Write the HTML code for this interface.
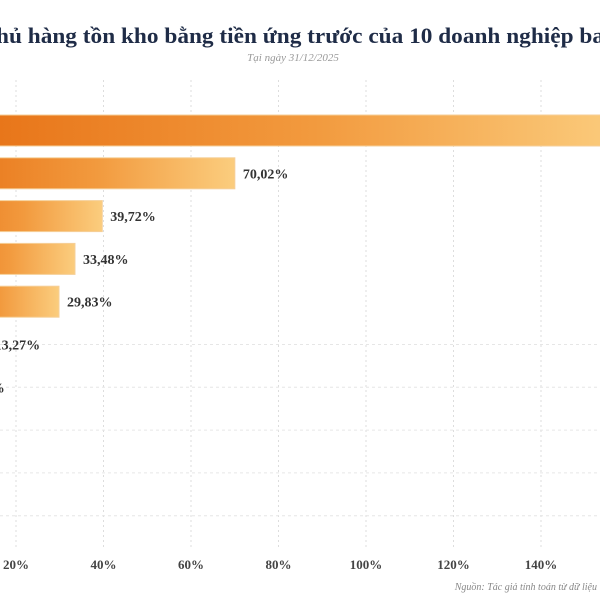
<!DOCTYPE html>
<html><head><meta charset="utf-8"><style>
body{margin:0;background:#fff;}
svg{display:block;}
</style></head><body>
<svg id="chart" width="600" height="600" viewBox="0 0 600 600" xmlns="http://www.w3.org/2000/svg">
<defs>
<linearGradient id="g" x1="0" x2="1" y1="0" y2="0">
<stop offset="0" stop-color="#e66e12"/><stop offset="0.55" stop-color="#f29a3e"/><stop offset="1" stop-color="#fbcd7e"/>
</linearGradient>
</defs>
<rect width="600" height="600" fill="#fff"/>
<text x="-4" y="43" font-family="'Liberation Serif',serif" font-weight="bold" font-size="22" fill="#1f2c47"><tspan textLength="608" lengthAdjust="spacingAndGlyphs">hủ hàng tồn kho bằng tiền ứng trước của 10 doanh nghiệp ba</tspan><tspan>t động sản</tspan></text>
<text x="293" y="61" text-anchor="middle" font-family="'Liberation Serif',serif" font-style="italic" font-size="11" fill="#999">Tại ngày 31/12/2025</text>
<g id="grid"></g>
<g id="bars"></g>
<g id="xaxis"></g>
<text x="597" y="590" text-anchor="end" font-family="'Liberation Serif',serif" font-style="italic" font-size="10" fill="#888">Nguồn: Tác giả tính toán từ dữ liệu</text>
</svg>
<script>
const categories = ["DN1","DN2","DN3","DN4","DN5","DN6","DN7","DN8","DN9","DN10"];
const values = [160, 70.02, 39.72, 33.48, 29.83, 13.27, 6.8, 3, 2, 1];
const labels = ["160,00%","70,02%","39,72%","33,48%","29,83%","13,27%","6,80%","3,00%","2,00%","1,00%"];
const ticks = [20, 40, 60, 80, 100, 120, 140];
const tickLabels = ["20%","40%","60%","80%","100%","120%","140%"];

const NS = "http://www.w3.org/2000/svg";
const xs = v => -71.5 + v * 4.375;
const ys = i => 130.5 + i * 42.8;
const barH = 31;
function mk(tag, attrs, parent){ const e=document.createElementNS(NS,tag); for(const k in attrs) e.setAttribute(k,attrs[k]); parent.appendChild(e); return e; }
const grid=document.getElementById('grid'), bars=document.getElementById('bars'), xa=document.getElementById('xaxis');
ticks.forEach((t,i)=>{
  const l=mk('line',{x1:xs(t),x2:xs(t),y1:80,y2:550,stroke:'#ddd','stroke-dasharray':'2,3','stroke-width':1},grid);
  
  
  const tx=mk('text',{x:xs(t),y:569,'text-anchor':'middle','font-family':"'Liberation Serif',serif",'font-weight':'bold','font-size':13,fill:'#444'},xa);
  tx.textContent=tickLabels[i];
  
  
});
categories.forEach((c,i)=>{
  const y=ys(i);
  if(i>=5){
    const h=mk('line',{x1:0,x2:600,y1:y,y2:y,stroke:'#e6e6e6','stroke-dasharray':'3,3','stroke-width':1},grid);
    
    
  }
  const x0=xs(0), x1=xs(values[i]);
  const r=mk('rect',{x:x0,y:y-barH/2,width:Math.max(0,x1-x0),height:barH,fill:'url(#g)',stroke:'#f6cf98','stroke-width':1},bars);
  
  
  const t=mk('text',{x:x1+8,y:y+5,'font-family':"'Liberation Serif',serif",'font-weight':'bold','font-size':14,fill:'#333'},bars);
  t.textContent=labels[i];
  
  
});
</script>
</body></html>
